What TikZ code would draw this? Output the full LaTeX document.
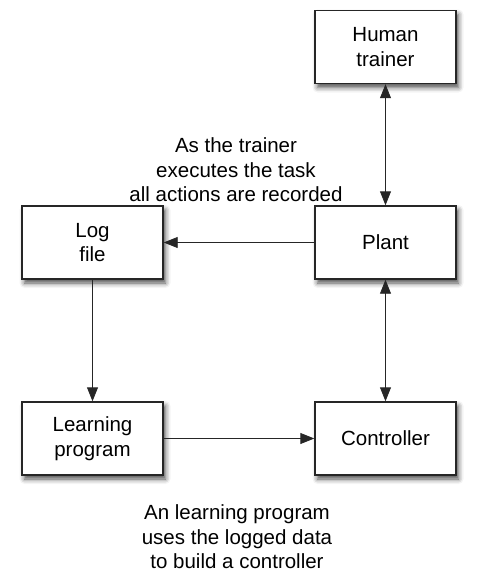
\documentclass[tikz,border=0pt]{standalone}
\usepackage{fontspec}
\setmainfont{Liberation Sans}
\usetikzlibrary{arrows.meta,shadows.blur}
\begin{document}
\begin{tikzpicture}[x=1pt,y=-1pt,
  every node/.style={font=\fontsize{20.5}{24.6}\selectfont, align=center},
  block/.style={draw=black!85, line width=1.4pt, fill=white,
    minimum width=141pt, minimum height=73pt, inner sep=0pt,
    blur shadow={shadow xshift=2.5pt, shadow yshift=-4pt, shadow blur radius=5pt, shadow opacity=70}},
  link/.style={line width=0.9pt, draw=black!85, -{Triangle[length=14pt,width=11pt]}},
  dlink/.style={link, {Triangle[length=14pt,width=11pt]}-{Triangle[length=14pt,width=11pt]}},
  note/.style={inner sep=0pt}]
  \useasboundingbox (0,0) rectangle (477,574);
  % boxes
  \node[block] (human) at (385.5,47) {Human\\trainer};
  \node[block] (log) at (92.5,242.5) {Log\\file};
  \node[block] (plant) at (385.5,242.5) {Plant};
  \node[block] (learn) at (92.5,438.5) {Learning\\program};
  \node[block] (ctrl) at (385.5,438.5) {Controller};
  % connectors
  \draw[dlink] (human) -- (plant);
  \draw[link] (plant) -- (log);
  \draw[link] (log) -- (learn);
  \draw[link] (learn) -- (ctrl);
  \draw[dlink] (plant) -- (ctrl);
  % notes
  \node[note] (n1) at (236,170) {As the trainer\\executes the task\\all actions are recorded};
  \node[note] (n2) at (237,537) {An learning program\\uses the logged data\\to build a controller};
\end{tikzpicture}
\end{document}
